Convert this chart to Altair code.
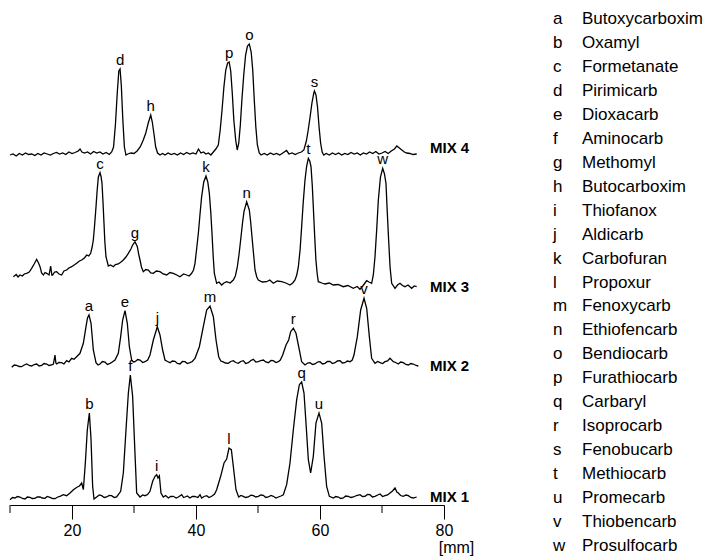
import altair as alt
import pandas as pd

FONT = "Liberation Sans"

# ---- traces: (retention position [mm], detector signal) ----
mix1 = [(10.0, -1.7), (10.4, 0.5), (10.81, 0), (11.2, 1.5), (11.61, 1), (12.0, -0.5), (12.42, -1),
        (12.8, 1), (13.23, 0.7), (13.6, -0.5), (14.03, -0.3), (14.4, 1.2), (14.84, 1), (15.2, 0),
        (15.65, -0.3), (16.0, 1.5), (16.45, 0.7), (16.85, -0.5), (17.26, -0.7), (17.7, 1), (18.06, 1.7),
        (18.6, 3.3), (19.14, 2.3), (19.68, 5), (20.22, 8.3), (20.86, 11), (21.2, 12), (21.56, 15),
        (21.83, 8.3), (22.15, 35), (22.47, 68.3), (22.8, 85), (23.07, 58.3), (23.33, 11.7), (23.55, -1),
        (23.98, 1), (24.4, 3), (24.78, 2.3), (25.2, 0.5), (25.59, 1), (26.0, 2.5), (26.4, 2.3), (26.8, 0.5),
        (27.2, 1), (27.85, 6.7), (28.28, 25), (28.71, 68.3), (29.09, 105), (29.41, 123), (29.78, 101.7),
        (30.11, 51.7), (30.43, 5), (30.97, 1), (31.4, 3), (31.77, 2.3), (32.2, 3.5), (32.58, 6.7),
        (33.01, 16.7), (33.39, 21.7), (33.66, 23.3), (33.87, 20), (34.09, 22.3), (34.35, 5), (34.73, 1),
        (35.1, 2.5), (35.54, 0), (35.9, 1.5), (36.34, 1.7), (36.8, 0), (37.15, 1), (37.69, 3.3), (38.0, 0.5),
        (38.23, 1), (38.6, 2), (39.03, 0), (39.4, 1.5), (39.84, 1.7), (40.3, 0.5), (40.65, 3.3), (40.91, 0),
        (41.3, 1.5), (41.72, 2.3), (42.1, 0.5), (42.53, 1.7), (43.0, 4), (43.33, 8.3), (43.98, 21.7),
        (44.52, 35), (44.95, 39), (45.32, 50), (45.7, 48.3), (46.02, 31.7), (46.45, 8.3), (46.88, 1),
        (47.25, 2.5), (47.63, 1.7), (48.0, 0.5), (48.44, 1), (48.85, 2.8), (49.25, 2.3), (49.65, 1),
        (50.05, 1.7), (50.45, 3), (50.86, 2.7), (51.25, 0.5), (51.67, 1), (52.1, 2.5), (52.47, 1.7),
        (52.9, 0), (53.28, 1), (53.7, 2), (54.09, 3.3), (54.62, 13.3), (55.16, 35), (55.7, 68.3),
        (56.24, 98.3), (56.67, 113.3), (57.04, 116), (57.42, 105), (57.74, 75), (58.12, 38.3), (58.49, 25),
        (58.92, 41.7), (59.35, 75), (59.84, 85), (60.27, 75), (60.65, 41.7), (61.07, 11.7), (61.51, 1.7),
        (62.15, 0), (62.55, 1.5), (62.96, 1), (63.35, -0.5), (63.76, 0), (64.15, 2), (64.57, 1.7), (65.0, 0.5),
        (65.38, 1), (65.9, 2.5), (66.45, 3.3), (66.85, 1.5), (67.26, 1.7), (67.65, 3.5), (68.06, 3.3),
        (68.45, 1), (68.87, 1.7), (69.3, 3), (69.68, 4), (70.1, 1.5), (70.48, 2.3), (70.9, 3), (71.29, 5),
        (71.7, 7), (72.1, 10), (72.4, 6), (72.63, 5), (73.0, 2.5), (73.44, 1.7), (73.85, 3), (74.25, 2.3),
        (74.65, 0.5), (75.05, 0), (75.59, 1)]

mix2 = [(10.27, -1.3), (10.7, 1), (11.08, 0.7), (11.5, -0.5), (11.88, -0.7), (12.3, 1), (12.69, 2),
        (13.1, 0.5), (13.49, 0), (13.9, 1.5), (14.3, 2), (14.7, 0), (15.11, 0.7), (15.5, 2.5), (15.91, 2),
        (16.3, 0.5), (16.72, 1), (17.0, 2), (17.26, 11), (17.4, 3), (17.53, 2), (17.9, 3.5), (18.33, 3.3),
        (18.7, 2), (19.14, 5.3), (19.5, 4), (19.95, 7.7), (20.32, 6.7), (20.75, 9.3), (21.29, 12.7),
        (21.83, 22.7), (22.26, 39.3), (22.5, 48), (22.74, 51), (23.07, 42.7), (23.25, 30), (23.44, 16),
        (23.87, 3.3), (24.2, 1), (24.52, 2), (24.9, 4.5), (25.32, 4), (25.7, 1.5), (26.13, 2.7), (26.5, 4),
        (26.94, 6), (27.47, 12.7), (27.85, 29.3), (28.17, 46), (28.55, 55.3), (28.92, 42.7), (29.25, 19.3),
        (29.62, 6), (29.9, 4), (30.16, 4.3), (30.6, 6.5), (30.97, 6), (31.4, 3.5), (31.77, 4.3), (32.2, 6),
        (32.58, 11), (33.12, 26), (33.76, 39.3), (34.19, 31), (34.62, 16), (35.0, 6), (35.4, 4.5), (35.81, 3.3),
        (36.2, 5), (36.61, 4.7), (37.0, 2.5), (37.42, 2), (37.8, 4.5), (38.23, 4.3), (38.6, 2.5), (39.03, 3.3),
        (39.4, 4.5), (39.84, 7.7), (40.54, 19.3), (41.18, 39.3), (41.72, 56), (42.26, 60), (42.8, 49.3),
        (43.23, 26), (43.66, 9.3), (44.0, 5), (44.3, 4.3), (44.75, 3), (45.21, 2.7), (45.6, 4.5), (46.02, 5.3),
        (46.4, 3.5), (46.83, 2.7), (47.2, 4.5), (47.63, 5.3), (48.0, 2.5), (48.44, 3.3), (48.85, 5.5),
        (49.25, 6.7), (49.65, 4), (50.05, 4.3), (50.45, 5.5), (50.86, 6), (51.25, 4), (51.67, 3.3), (52.1, 5.5),
        (52.47, 5.3), (52.9, 3.5), (53.28, 4.3), (53.6, 6), (53.98, 11), (54.52, 21), (54.95, 26),
        (55.27, 34.3), (55.7, 37.7), (56.13, 32.7), (56.56, 19.3), (57.04, 4.3), (57.58, 1), (58.0, 3),
        (58.39, 3.3), (58.8, 1.5), (59.19, 2), (59.6, 4), (60.0, 4.3), (60.4, 2), (60.81, 2.7), (61.2, 4.5),
        (61.61, 4.7), (62.0, 2.5), (62.42, 3.3), (62.8, 5), (63.23, 5.3), (63.6, 3), (64.03, 3.3), (64.4, 5),
        (64.84, 4.3), (65.2, 6), (65.48, 11), (66.02, 29.3), (66.56, 56), (67.1, 67.7), (67.53, 57.7),
        (67.96, 29.3), (68.33, 7.7), (68.87, 2.7), (69.3, 4.5), (69.68, 3.3), (70.1, 2.5), (70.48, 4.3),
        (70.9, 5), (71.29, 7.7), (71.83, 4.3), (72.2, 3.5), (72.63, 2), (73.0, 4), (73.44, 3.3), (73.85, 1.5),
        (74.25, 1), (74.65, 2.5), (75.05, 2), (75.5, 0.5), (75.86, 0)]

mix3 = [(10.54, 10.3), (11.0, 12.5), (11.3, 10), (11.61, 12), (12.0, 11), (12.3, 13), (12.69, 13.7),
        (13.1, 15), (13.49, 18.7), (13.9, 23), (14.3, 27.7), (14.6, 24), (14.84, 20.3), (15.1, 14),
        (15.38, 12), (15.65, 14.5), (15.91, 13.7), (16.3, 12), (16.56, 21), (16.75, 12), (16.88, 12),
        (17.2, 15), (17.53, 15.3), (17.9, 13), (18.33, 12), (18.7, 16), (19.14, 17), (19.5, 19), (19.95, 20.3),
        (20.35, 22), (20.75, 23.7), (21.2, 26), (21.56, 27), (22.0, 29), (22.37, 32), (22.7, 31), (23.01, 33.7),
        (23.25, 40), (23.44, 47), (23.65, 62), (23.87, 80), (24.05, 96), (24.25, 110), (24.52, 114.3),
        (24.7, 110), (24.84, 103.7), (25.0, 85), (25.16, 63.7), (25.3, 45), (25.48, 30.3), (25.86, 21),
        (26.2, 22), (26.67, 20.3), (27.0, 22.5), (27.47, 23), (27.9, 25), (28.28, 27), (28.7, 30),
        (29.09, 33.7), (29.5, 38), (29.78, 42), (30.16, 45.3), (30.54, 40.3), (30.75, 33), (30.97, 27),
        (31.2, 20), (31.5, 15.3), (31.9, 17.5), (32.31, 17), (32.7, 14), (33.12, 13.7), (33.6, 16),
        (34.19, 15.3), (34.7, 13), (35.27, 12), (35.8, 14.5), (36.34, 13.7), (36.9, 12), (37.42, 10.3),
        (38.0, 13), (38.49, 12), (38.9, 11), (39.3, 13.7), (39.6, 17), (39.84, 23.7), (40.1, 38),
        (40.38, 53.7), (40.65, 73), (40.91, 90.3), (41.25, 105), (41.61, 111), (41.9, 105), (42.15, 93.7),
        (42.38, 75), (42.58, 53.7), (42.78, 30), (42.96, 13.7), (43.33, 3.7), (43.7, 5), (44.14, 2), (44.5, 4),
        (44.94, 5.3), (45.5, 4), (46.02, 7), (46.35, 11), (46.67, 20.3), (46.95, 33), (47.2, 47), (47.5, 64),
        (47.74, 75.3), (48.17, 85.3), (48.6, 77), (48.8, 66), (49.03, 50.3), (49.3, 32), (49.52, 17),
        (49.8, 10), (50.05, 7), (50.7, 5), (51.4, 5.3), (51.9, 7), (52.47, 3.7), (53.1, 6), (53.82, 5.3),
        (54.5, 4), (55.16, 2), (55.6, 4), (55.97, 7), (56.25, 12), (56.51, 20.3), (56.8, 38), (57.04, 60.3),
        (57.3, 85), (57.58, 107), (57.85, 121), (58.12, 128.7), (58.35, 126), (58.55, 120.3), (58.75, 102),
        (58.92, 80.3), (59.15, 50), (59.34, 27), (59.55, 13), (59.73, 5.3), (60.3, 4), (60.8, 3), (61.5, 4),
        (62.15, 2), (62.9, 2.5), (63.76, 0.3), (64.5, 1.5), (65.37, -1.3), (66.0, 0.5), (66.45, -2.3),
        (66.9, 1), (67.25, 4), (67.53, 6.3), (67.9, 5), (68.33, 3.7), (68.6, 12), (68.87, 30.3), (69.15, 58),
        (69.41, 87), (69.75, 110), (70.11, 118.7), (70.4, 113), (70.64, 103.7), (70.85, 75), (71.07, 47),
        (71.3, 20), (71.56, 3.7), (72.1, -1.3), (72.5, 2), (72.9, 3.7), (73.3, 1.5), (73.71, 0.3), (74.2, 2),
        (74.78, -1.3), (75.2, 1), (75.59, 0.3)]

mix4 = [(10.0, 0), (10.5, 1), (11.0, -1), (11.5, 1.5), (12.0, 0), (12.5, 2), (13.0, 0.5), (13.5, 1),
        (14.0, -0.5), (14.5, 1.5), (15.0, 0), (15.5, 2), (16.0, 1), (16.5, 0), (17.0, 1.5), (17.5, 2.5),
        (18.0, 1), (18.5, 2), (19.0, 0.5), (19.5, 3), (20.0, 1.5), (20.5, 2.5), (21.0, 4), (21.3, 6),
        (21.6, 3), (22.0, 2), (22.5, 3), (23.0, 1), (23.5, 3.5), (24.0, 2), (24.5, 3), (25.0, 1), (25.5, 2.5),
        (26.0, 0.5), (26.4, 3), (26.7, 8), (27.0, 30), (27.3, 62), (27.55, 84), (27.75, 86), (27.95, 70),
        (28.2, 35), (28.45, 8), (28.7, 0), (29.0, 1), (29.5, 2), (30.0, 1.5), (30.5, 4), (31.0, 8), (31.5, 15),
        (31.9, 22), (32.3, 32), (32.7, 40), (32.95, 33), (33.2, 22), (33.5, 8), (33.8, 2), (34.2, 0),
        (34.6, 1.5), (35.0, 0), (35.5, 2), (36.0, 0.5), (36.5, 1.5), (37.0, 0), (37.5, 2), (38.0, 0.5),
        (38.5, 2.5), (39.0, 1), (39.5, 2), (40.0, 1), (40.4, 6), (40.8, 2), (41.2, 3), (41.6, 1), (42.0, 2),
        (42.4, 0), (42.8, 3), (43.2, 6), (43.6, 10), (43.9, 25), (44.2, 45), (44.5, 68), (44.8, 85),
        (45.1, 92), (45.35, 93), (45.6, 84), (45.85, 62), (46.1, 35), (46.4, 15), (46.65, 5), (46.9, 12),
        (47.15, 30), (47.4, 55), (47.7, 80), (48.0, 100), (48.3, 109), (48.6, 111), (48.9, 103), (49.15, 85),
        (49.4, 55), (49.65, 28), (49.9, 10), (50.2, 2), (50.5, 0), (51.0, 1.5), (51.5, 0), (52.0, 2),
        (52.5, 0.5), (53.0, 1.5), (53.5, 0), (54.0, 2), (54.6, 4.5), (55.0, 1), (55.5, 2), (56.0, 0.5),
        (56.5, 2), (57.0, 3), (57.4, 5), (57.8, 14), (58.1, 25), (58.4, 38), (58.7, 52), (59.0, 62),
        (59.1, 64), (59.35, 60), (59.6, 48), (59.85, 28), (60.1, 12), (60.35, 3), (60.6, 0), (61.0, 1.5),
        (61.5, 0), (62.0, 2), (62.5, 0.5), (63.0, 2), (63.5, 0), (64.0, 1.5), (64.5, 0.5), (65.0, 2.5),
        (65.5, 1), (66.0, 2), (66.5, 0), (67.0, 2), (67.5, 1), (68.0, 3), (68.5, 1.5), (69.0, 3.5), (69.5, 1),
        (70.0, 2), (70.5, 3.5), (71.0, 1.5), (71.5, 4), (72.0, 6), (72.4, 9), (72.8, 7), (73.2, 5),
        (73.6, 3), (74.0, 2), (74.5, 1.5), (75.0, 0.5), (75.6, 1)]

trace_names = ["MIX 1", "MIX 2", "MIX 3", "MIX 4"]
trace_data = [mix1, mix2, mix3, mix4]
trace_offsets = [7, 139, 218, 350]          # vertical stacking of the traces
trace_label_nudge = [1.5, 0, 0, 7.5]

# ---- peak labels ----
peak_letters = ["b", "f", "i", "l", "q", "u",
                "a", "e", "j", "m", "r", "v",
                "c", "g", "k", "n", "t", "w",
                "d", "h", "p", "o", "s"]
peak_trace = ["MIX 1"] * 6 + ["MIX 2"] * 6 + ["MIX 3"] * 6 + ["MIX 4"] * 5
peak_mm = [22.8, 29.41, 33.66, 45.32, 57.04, 59.84,
           22.74, 28.55, 33.76, 42.26, 55.7, 67.1,
           24.52, 30.16, 41.61, 48.17, 58.12, 70.11,
           27.75, 32.7, 45.35, 48.6, 59.1]
peak_height = [85, 123, 23, 50, 116, 85,
               51, 55, 39, 60, 38, 68,
               114, 45, 111, 85, 129, 119,
               86, 40, 93, 111, 64]

# ---- compound key ----
legend_letters = list("abcdefghijklmnopqrstuvw")
legend_names = ["Butoxycarboxim", "Oxamyl", "Formetanate", "Pirimicarb", "Dioxacarb", "Aminocarb",
                "Methomyl", "Butocarboxim", "Thiofanox", "Aldicarb", "Carbofuran", "Propoxur",
                "Fenoxycarb", "Ethiofencarb", "Bendiocarb", "Furathiocarb", "Carbaryl", "Isoprocarb",
                "Fenobucarb", "Methiocarb", "Promecarb", "Thiobencarb", "Prosulfocarb"]

major_ticks = [20, 40, 60, 80]
minor_ticks = [10, 30, 50, 70]

# ---- tables ----
rows = []
for name, data, off in zip(trace_names, trace_data, trace_offsets):
    for mm, s in data:
        rows.append({"trace": name, "mm": mm, "signal": s, "y": s + off})
df = pd.DataFrame(rows)

off_map = dict(zip(trace_names, trace_offsets))
peaks = pd.DataFrame({"letter": peak_letters, "trace": peak_trace, "mm": peak_mm, "h": peak_height})
peaks["y"] = peaks["h"] + peaks["trace"].map(off_map)

mixlab = pd.DataFrame({"trace": trace_names,
                       "y": [o + n for o, n in zip(trace_offsets, trace_label_nudge)]})
legend = pd.DataFrame({"row": list(range(len(legend_letters))), "letter": legend_letters, "name": legend_names})
minor = pd.DataFrame({"t": minor_ticks})

W, H = 434, 495
xscale = alt.Scale(domain=[10, 80], nice=False, zero=False)
yscale = alt.Scale(domain=[0, H], nice=False, zero=False)

xaxis = alt.Axis(
    values=major_ticks, tickSize=14, tickWidth=1, tickColor="black",
    domainColor="black", domainWidth=1, grid=False, labelFlush=False,
    labelFont=FONT, labelFontSize=16, labelColor="black", labelPadding=3,
    title="[mm]", titleFont=FONT, titleFontSize=16, titleFontWeight="normal",
    titleColor="black", titleX=446, titleY=47, titleAlign="center",
    titleBaseline="alphabetic")

lines = alt.Chart(df).mark_line(color="black", strokeWidth=1.3).encode(
    x=alt.X("mm:Q", scale=xscale, axis=xaxis),
    y=alt.Y("y:Q", scale=yscale, axis=None),
    detail="trace:N",
    order="mm:Q",
)

minor_ticks_layer = alt.Chart(minor).mark_rule(color="black", strokeWidth=1).encode(
    x=alt.X("t:Q", scale=xscale, axis=xaxis),
    y=alt.value(H),
    y2=alt.value(H + 8),
)

peak_text = alt.Chart(peaks).mark_text(font=FONT, fontSize=15, baseline="alphabetic",
                                       dy=-4, color="black").encode(
    x=alt.X("mm:Q", scale=xscale, axis=xaxis),
    y=alt.Y("y:Q", scale=yscale, axis=None),
    text="letter:N",
)

mix_text = alt.Chart(mixlab).mark_text(font=FONT, fontSize=15, fontWeight="bold", align="left",
                                       baseline="middle", color="black").encode(
    x=alt.value(420),
    y=alt.Y("y:Q", scale=yscale, axis=None),
    text="trace:N",
)

leg_y = alt.Y("row:O", scale=alt.Scale(range=[14, 541], padding=0), axis=None)
leg_letters = alt.Chart(legend).mark_text(font=FONT, fontSize=17, align="left",
                                          baseline="alphabetic", color="black").encode(
    x=alt.value(543), y=leg_y, text="letter:N")
leg_names = alt.Chart(legend).mark_text(font=FONT, fontSize=17, align="left",
                                        baseline="alphabetic", color="black").encode(
    x=alt.value(572), y=leg_y, text="name:N")

chart = alt.layer(lines, minor_ticks_layer, peak_text, mix_text, leg_letters, leg_names).resolve_scale(
    y="independent"
).properties(
    width=W, height=H,
    autosize=alt.AutoSizeParams(type="none"),
    padding={"left": 2, "top": 2, "right": 264, "bottom": 52},
    background="white",
).configure_view(strokeWidth=0)

chart.save("out.html", embed_options={"renderer": "svg", "actions": False})
